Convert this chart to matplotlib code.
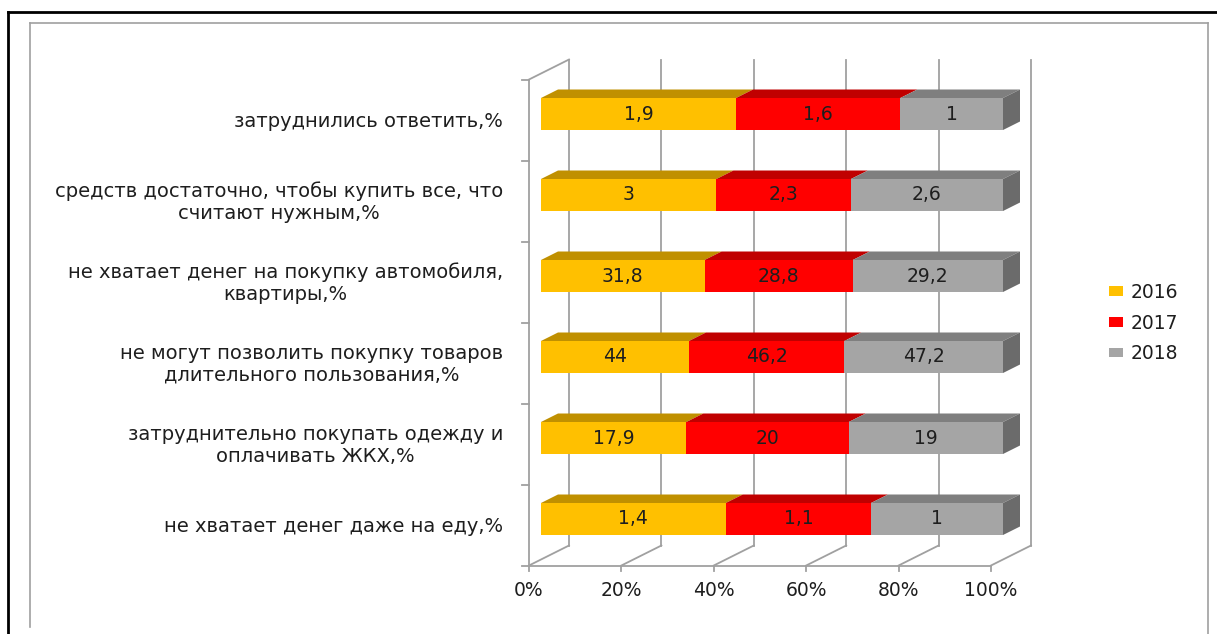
import matplotlib
matplotlib.use('Agg')
import matplotlib.pyplot as plt
from matplotlib.patches import Polygon, Patch

# ---------------- data ----------------
categories = [
    'не хватает денег даже на еду,%',
    'затруднительно покупать одежду и\nоплачивать ЖКХ,%',
    'не могут позволить покупку товаров\nдлительного пользования,%',
    'не хватает денег на покупку автомобиля,\nквартиры,%',
    'средств достаточно, чтобы купить все, что\nсчитают нужным,%',
    'затруднились ответить,%',
]
series_names = ['2016', '2017', '2018']
v2016 = [1.4, 17.9, 44, 31.8, 3, 1.9]
v2017 = [1.1, 20, 46.2, 28.8, 2.3, 1.6]
v2018 = [1, 19, 47.2, 29.2, 2.6, 1]
tick_values = [0, 20, 40, 60, 80, 100]
tick_labels = ['0%', '20%', '40%', '60%', '80%', '100%']

front_colors = ['#FFC000', '#FF0000', '#A5A5A5']
top_colors = ['#C09000', '#C00000', '#7F7F7F']
side_color = '#6B6B6B'
grid_color = '#A0A0A0'
text_color = '#1E1E1E'

# ---------------- layout ----------------
W, H, DPI = 1217, 634, 100
X0, XS = 541.0, 4.62     # px of 0% on bar front, px per percent
Y0, YS = 519.0, 81.0     # px (from top) of first bar centre, px per category
SLOPE = 0.5

fig = plt.figure(figsize=(W / DPI, H / DPI), dpi=DPI)

# background frame (pixel coordinates)
bg = fig.add_axes([0, 0, 1, 1])
bg.set_xlim(0, W)
bg.set_ylim(H, 0)
bg.axis('off')
bg.plot([8, W], [12, 12], color='black', lw=2.0)
bg.plot([8, 8], [12, H], color='black', lw=2.0)
bg.plot([29.5, 1207.5], [22.5, 22.5], color='#A0A0A0', lw=1.2)
bg.plot([29.5, 29.5], [22.5, 627], color='#A0A0A0', lw=1.2)
bg.plot([1207.5, 1207.5], [22.5, H], color='#A0A0A0', lw=1.2)

ax = fig.add_axes([0, 0, 1, 1])
ax.set_xlim(-X0 / XS, (W - X0) / XS)
ax.set_ylim((Y0 - H) / YS, Y0 / YS)
ax.axis('off')
ax.patch.set_alpha(0)


def off(t):
    """data offset for a depth of t pixels (oblique projection)"""
    return t / XS, t * SLOPE / YS


n = len(categories)
ylo, yhi = -0.5, n - 0.5
TF, TB = -12, 28      # front floor / back wall depth in px
fx, fy = off(TF)
bx, by = off(TB)
glw = 1.3

# back-wall gridlines and floor lines
for p, tl in zip(tick_values, tick_labels):
    ax.plot([p + bx, p + bx], [ylo + by, yhi + by], color=grid_color, lw=glw, zorder=1)
    ax.plot([p + fx, p + bx], [ylo + fy, ylo + by], color=grid_color, lw=glw, zorder=1)
    ax.plot([p + fx, p + fx], [ylo + fy, ylo + fy - 5 / YS], color=grid_color, lw=glw, zorder=1)
    ax.text(p + fx, ylo + fy - 25 / YS, tl, ha='center', va='center',
            fontsize=13.5, color=text_color)
ax.plot([fx, 100 + fx], [ylo + fy, ylo + fy], color=grid_color, lw=glw, zorder=1)
# left wall
ax.plot([fx, fx], [ylo + fy, yhi + fy], color=grid_color, lw=glw, zorder=1)
ax.plot([fx, bx], [yhi + fy, yhi + by], color=grid_color, lw=glw, zorder=1)
for k in range(n + 1):
    yk = ylo + k + fy
    ax.plot([fx - 7 / XS, fx], [yk, yk], color=grid_color, lw=glw, zorder=1)

# bars
BH = 32 / YS
TD = 17
dx, dy = off(TD)
series = [v2016, v2017, v2018]
for i in range(n):
    vals = [s[i] for s in series]
    tot = sum(vals)
    left = 0.0
    for j, v in enumerate(vals):
        w = v / tot * 100
        ax.barh(i, w, left=left, height=BH, color=front_colors[j], zorder=3)
        top = i + BH / 2
        ax.add_patch(Polygon([(left, top), (left + w, top), (left + w + dx, top + dy),
                              (left + dx, top + dy)], closed=True,
                             facecolor=top_colors[j], edgecolor='none', zorder=2))
        lab = f'{v:g}'.replace('.', ',')
        ax.text(left + w / 2, i, lab, ha='center', va='center', fontsize=13.5,
                color=text_color, zorder=4)
        left += w
    bot = i - BH / 2
    top = i + BH / 2
    ax.add_patch(Polygon([(left, bot), (left, top), (left + dx, top + dy), (left + dx, bot + dy)],
                         closed=True, facecolor=side_color, edgecolor='none', zorder=2))

# category labels
for i, c in enumerate(categories):
    ax.text((503 - X0) / XS, i - 0.09, c, ha='right', va='center', multialignment='center',
            fontsize=14, color=text_color, linespacing=1.2)

# legend
handles = [Patch(facecolor=front_colors[j], edgecolor='none', label=series_names[j]) for j in range(3)]
fig.legend(handles=handles, loc='center left', bbox_to_anchor=(1109 / W, 1 - 323 / H),
           frameon=False, handlelength=0.75, handleheight=0.43, handletextpad=0.4,
           labelspacing=0.62, borderpad=0, borderaxespad=0, fontsize=13.5,
           labelcolor=text_color)

fig.savefig('out.png', dpi=DPI)
